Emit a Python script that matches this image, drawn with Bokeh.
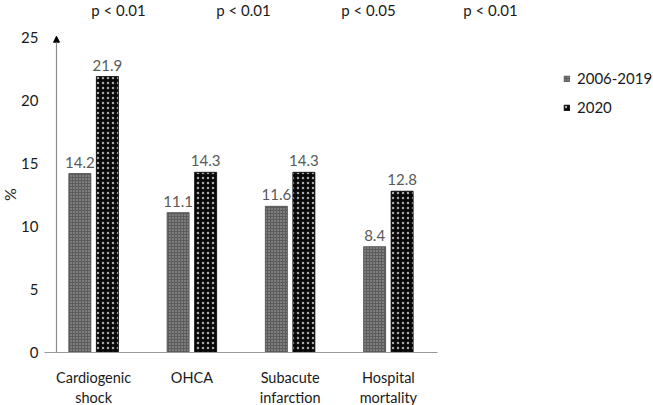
from bokeh.plotting import figure
from bokeh.models import (Range1d, ColumnDataSource, Arrow, NormalHead, Legend, LegendItem)
from bokeh.core.properties import value
from bokeh.embed import file_html
from bokeh.resources import INLINE

categories = [["Cardiogenic", "shock"], ["OHCA"], ["Subacute", "infarction"], ["Hospital", "mortality"]]
series_names = ["2006-2019", "2020"]
vals_2006_2019 = [14.2, 11.1, 11.6, 8.4]
vals_2020 = [21.9, 14.3, 14.3, 12.8]
p_values = ["p < 0.01", "p < 0.01", "p < 0.05", "p < 0.01"]
y_ticks = [0, 5, 10, 15, 20, 25]

FONT = "Lato"
PX = 98.25   # pixels per category unit
PY = 12.6    # pixels per percent
W, H = 653, 405
LEFT, BOTTOM = 44, 53   # where the value origin sits on the canvas

p = figure(width=W, height=H, output_backend="svg", toolbar_location=None,
           x_range=Range1d(-LEFT / PX, (W - LEFT) / PX),
           y_range=Range1d(-BOTTOM / PY, (H - BOTTOM) / PY),
           min_border=0)
p.outline_line_color = None
p.grid.grid_line_color = None
p.background_fill_color = "white"
p.border_fill_color = "white"
p.axis.visible = False

centers = [i + 0.5 for i in range(len(categories))]
src = ColumnDataSource(dict(
    xa=[c - 0.14 for c in centers], xb=[c + 0.14 for c in centers],
    a=vals_2006_2019, b=vals_2020,
    la=[f"{v:.1f}" for v in vals_2006_2019], lb=[f"{v:.1f}" for v in vals_2020]))

ra = p.vbar(x="xa", top="a", width=0.224, source=src, fill_color="#5c5c5c",
            line_color="#4a4a4a", line_width=0.8,
            hatch_pattern="dot", hatch_color="#b0b0b0", hatch_scale=3, hatch_weight=1)
rb = p.vbar(x="xb", top="b", width=0.224, source=src, fill_color="#080808",
            line_color="#000000", line_width=0.8,
            hatch_pattern="dot", hatch_color="#a8a8a8", hatch_scale=5, hatch_weight=0.4)

for xc, yc, lc in (("xa", "a", "la"), ("xb", "b", "lb")):
    p.text(x=xc, y=yc, text=lc, source=src, text_align="center", text_baseline="bottom",
           y_offset=-6, text_font=value(FONT), text_font_size="15px", text_color="#595959")

# x axis baseline
p.segment(x0=[0], y0=[0], x1=[len(categories)], y1=[0], line_color="#9a9a9a", line_width=1.2)

# y axis arrow
p.add_layout(Arrow(x_start=12 / PX, y_start=0, x_end=12 / PX, y_end=25.1,
                   line_color="#8c8c8c", line_width=1.2,
                   end=NormalHead(size=6, fill_color="black", line_color="black")))

# y tick labels
p.text(x=[0] * len(y_ticks), y=y_ticks, text=[str(t) for t in y_ticks], x_offset=-6,
       text_align="right", text_baseline="middle", text_font=value(FONT),
       text_font_size="15px", text_color="#1a1a1a")

# "%" axis title
p.text(x=[0], y=[(H - BOTTOM - 194) / PY], text=["%"], x_offset=-35, angle=90,
       angle_units="deg", text_align="center", text_baseline="middle",
       text_font=value(FONT), text_font_size="16px", text_color="#1a1a1a")

# p-value annotations above the chart
p_x_px = [118, 243, 368, 490]
p.text(x=[(px - LEFT) / PX for px in p_x_px], y=[(H - BOTTOM) / PY] * len(p_values),
       text=p_values, y_offset=9, text_align="center", text_baseline="alphabetic",
       text_font=value(FONT), text_font_size="15px", text_color="#1a1a1a")

# category labels below the axis
for k in range(2):
    xs = [c for c, lines in zip(centers, categories) if len(lines) > k]
    ts = [lines[k] for lines in categories if len(lines) > k]
    p.text(x=xs, y=[0] * len(xs), text=ts, y_offset=25 + 20 * k, text_align="center",
           text_baseline="alphabetic", text_font=value(FONT), text_font_size="14.5px",
           text_color="#1a1a1a")

legend = Legend(items=[LegendItem(label=series_names[0], renderers=[ra]),
                       LegendItem(label=series_names[1], renderers=[rb])],
                location=(563, 289), glyph_width=7, glyph_height=7, padding=0, margin=0,
                spacing=11, label_standoff=7, border_line_color=None,
                background_fill_alpha=0, label_text_font=FONT, label_text_font_size="15px",
                label_text_color="#1a1a1a")
p.add_layout(legend)

open("out.html", "w").write(file_html(p, INLINE))
